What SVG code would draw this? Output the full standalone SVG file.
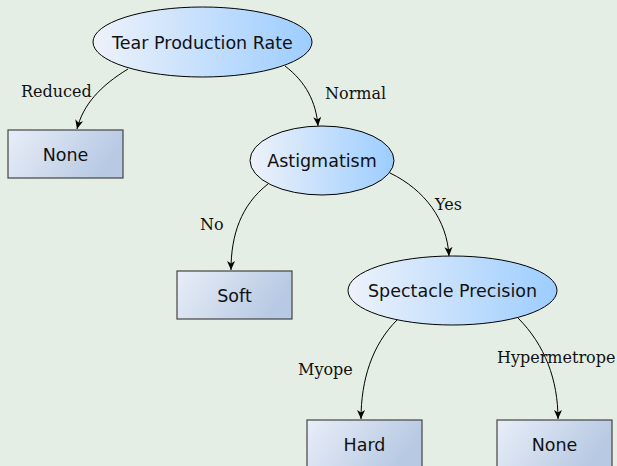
<svg xmlns="http://www.w3.org/2000/svg" width="617" height="466" viewBox="0 0 617 466">
<defs>
<linearGradient id="gE" x1="0" y1="0" x2="1" y2="0">
<stop offset="0" stop-color="#eef2fa"/>
<stop offset="1" stop-color="#9ccdff"/>
</linearGradient>
<linearGradient id="gB" x1="0" y1="0" x2="1" y2="0.3">
<stop offset="0" stop-color="#e9eef8"/>
<stop offset="1" stop-color="#b7c9e3"/>
</linearGradient>
<marker id="arr" markerWidth="10" markerHeight="10" viewBox="0 0 10 10" refX="9" refY="5" orient="auto" markerUnits="userSpaceOnUse">
<path d="M0,1 L9,5 L0,9 L2.5,5 Z" fill="#000"/>
</marker>
<style>
.e{fill:url(#gE);stroke:#000;stroke-width:1}
.b{fill:url(#gB);stroke:#444;stroke-width:1.2}
.t{font-family:"DejaVu Sans",sans-serif;font-size:17.5px;fill:#111;text-anchor:middle}
.l{font-family:"DejaVu Serif",serif;font-size:16px;fill:#111}
.c{fill:none;stroke:#000;stroke-width:1;marker-end:url(#arr)}
</style>
</defs>
<rect width="617" height="466" fill="#e5eee4"/>
<g id="connectors">
<path class="c" d="M128,69 C100,86 83,105 77,129"/>
<path class="c" d="M285,66 C306,82 316,102 318,126"/>
<path class="c" d="M268,184 C241,205 231,235 231,270"/>
<path class="c" d="M390,173 C425,190 447,220 449,256"/>
<path class="c" d="M397,320 C372,345 361,380 361,419"/>
<path class="c" d="M518,318 C545,345 558,380 558,419"/>
<text class="l" x="21" y="97">Reduced</text>
<text class="l" x="325" y="99">Normal</text>
<text class="l" x="200" y="230">No</text>
<text class="l" x="435" y="210">Yes</text>
<text class="l" x="298" y="375">Myope</text>
<text class="l" x="497" y="363">Hypermetrope</text>
</g>
<g id="tear">
<ellipse class="e" cx="202.5" cy="42" rx="109.5" ry="35"/>
<text class="t" x="202.5" y="48.5">Tear Production Rate</text>
</g>
<g id="none1">
<rect class="b" x="8" y="130" width="115" height="48"/>
<text class="t" x="65.5" y="161">None</text>
</g>
<g id="astig">
<ellipse class="e" cx="322" cy="160.5" rx="72" ry="34.5"/>
<text class="t" x="322" y="167">Astigmatism</text>
</g>
<g id="soft">
<rect class="b" x="177" y="271" width="115" height="48"/>
<text class="t" x="234.5" y="302">Soft</text>
</g>
<g id="spec">
<ellipse class="e" cx="452.5" cy="290.5" rx="104.5" ry="34.5"/>
<text class="t" x="452.5" y="297">Spectacle Precision</text>
</g>
<g id="hard">
<rect class="b" x="307" y="420" width="115" height="48"/>
<text class="t" x="364.5" y="451">Hard</text>
</g>
<g id="none2">
<rect class="b" x="497" y="420" width="115" height="48"/>
<text class="t" x="554.5" y="451">None</text>
</g>
</svg>
